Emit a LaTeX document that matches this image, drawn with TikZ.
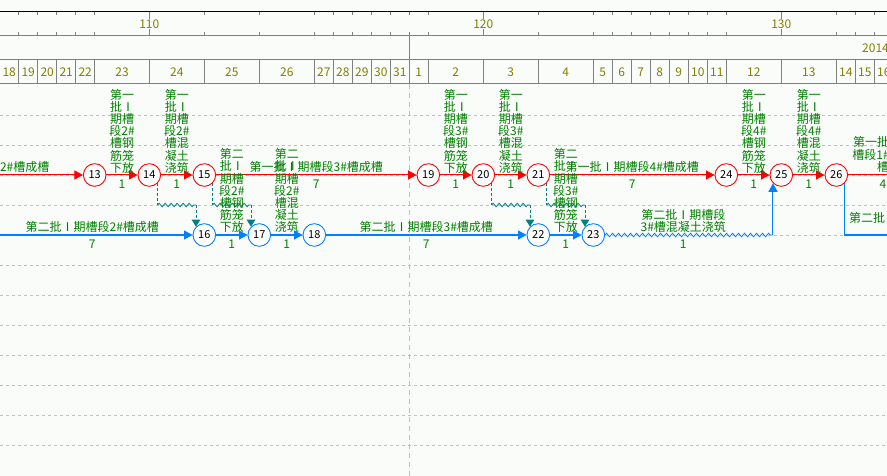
\documentclass[tikz,border=0pt]{standalone}
\usepackage{fontspec}
\setmainfont{Noto Sans CJK SC}
\usetikzlibrary{arrows.meta,decorations.pathmorphing}
\newcommand{\romI}{\makebox[1em]{Ⅰ}}
\definecolor{bgc}{RGB}{250,252,250}
\definecolor{redc}{RGB}{255,0,0}
\definecolor{bluec}{RGB}{0,128,255}
\definecolor{tealc}{RGB}{0,128,128}
\definecolor{greenc}{RGB}{0,128,0}
\definecolor{olivec}{RGB}{128,128,0}
\definecolor{hdrgray}{RGB}{128,128,128}
\definecolor{gridgray}{RGB}{192,192,192}
\tikzset{
  evr/.style={circle, draw=redc, fill=white, line width=0.9pt, minimum size=22.6pt, inner sep=0pt, text=black, font=\fontsize{11}{11}\selectfont},
  evb/.style={evr, draw=bluec},
  actr/.style={draw=redc, line width=1pt, -{Triangle[length=8.5pt,width=9pt]}},
  actb/.style={draw=bluec, line width=1pt, -{Triangle[length=8.5pt,width=9pt]}},
  plainr/.style={draw=redc, line width=1pt},
  plainb/.style={draw=bluec, line width=1pt},
  zigb/.style={draw=bluec, line width=0.8pt, decorate, decoration={zigzag, segment length=6pt, amplitude=1.8pt}},
  vlab/.style={text=greenc, align=center, inner sep=0pt, anchor=south, font=\fontsize{12}{12.2}\selectfont},
  hlab/.style={text=greenc, inner sep=0pt, anchor=base, font=\fontsize{12}{12}\selectfont},
  dur/.style={text=greenc, inner sep=0pt, anchor=base, font=\fontsize{12}{12}\selectfont},
  depd/.style={draw=tealc, line width=0.8pt, dash pattern=on 3pt off 2pt},
  depz/.style={draw=tealc, line width=0.8pt, decorate, decoration={zigzag, segment length=6pt, amplitude=1.8pt}},
  deptip/.style={-{Triangle[length=7pt,width=8.5pt]}},
  hdr/.style={draw=hdrgray, line width=1pt},
  gridl/.style={draw=gridgray, line width=0.8pt, dash pattern=on 3pt off 3pt},
  gridv/.style={draw=gridgray, line width=0.8pt, dash pattern=on 5pt off 4pt},
  hdrlab/.style={text=olivec, inner sep=0pt, anchor=base, font=\fontsize{12}{12}\selectfont},
}
\begin{document}
\begin{tikzpicture}[x=1pt,y=-1pt]
\path[use as bounding box] (0,0) rectangle (887,476);
\clip (0,0) rectangle (887,476);
\fill[bgc] (0,0) rectangle (887,476);

% grid
\foreach \y in {115,145,...,445} {\draw[gridl] (0,\y) -- (887,\y);}
\draw[gridv] (409.3,84) -- (409.3,476);

% header
\draw[black, line width=1pt] (0,12) -- (887,12);
\draw[hdr] (0,36) -- (887,36);
\draw[hdr] (0,60) -- (887,60);
\draw[hdr] (0,84) -- (887,84);
\draw[hdr] (409.3,36) -- (409.3,60);
\foreach \x in {18.7,37.7,56.7,75.7,94.7,204.3,259.3,314.3,333.3,352.3,371.3,390.3,409.3,428.3,538.3,593.3,612.3,631.3,650.3,669.3,688.3,707.3,726.3,836.3,855.3,874.3}
  {\draw[hdr] (\x,12) -- (\x,15.5) (\x,32.5) -- (\x,36);}
\foreach \x/\t in {149.3/110,483.3/120,781.3/130}
  {\draw[hdr] (\x,12) -- (\x,19) (\x,29) -- (\x,36);
   \node[hdrlab] at (\x,28.5) {\t};}
\node[hdrlab, anchor=base west] at (862,52.5) {2014年2月};
\foreach \d/\l/\r in {18/-0.3/18.7,19/18.7/37.7,20/37.7/56.7,21/56.7/75.7,22/75.7/94.7,23/94.7/149.3,24/149.3/204.3,25/204.3/259.3,26/259.3/314.3,27/314.3/333.3,28/333.3/352.3,29/352.3/371.3,30/371.3/390.3,31/390.3/409.3,1/409.3/428.3,2/428.3/483.3,3/483.3/538.3,4/538.3/593.3,5/593.3/612.3,6/612.3/631.3,7/631.3/650.3,8/650.3/669.3,9/669.3/688.3,10/688.3/707.3,11/707.3/726.3,12/726.3/781.3,13/781.3/836.3,14/836.3/855.3,15/855.3/874.3,16/874.3/893.3}
  {\draw[hdr] (\r,60) -- (\r,84);
   \node[hdrlab] at ({(\l+\r)/2},76.5) {\d};}

% row levels
\coordinate (yr) at (0,175);
\coordinate (yb) at (0,235);
\coordinate (yd) at (0,205);

% events
\node[evr] (n13) at (94.7,175) {13};
\node[evr] (n14) at (149.3,175) {14};
\node[evr] (n15) at (204.3,175) {15};
\node[evr] (n19) at (428.3,175) {19};
\node[evr] (n20) at (483.3,175) {20};
\node[evr] (n21) at (538.3,175) {21};
\node[evr] (n24) at (726.3,175) {24};
\node[evr] (n25) at (781.3,175) {25};
\node[evr] (n26) at (836.3,175) {26};
\node[evb] (n16) at (204.3,235) {16};
\node[evb] (n17) at (259.3,235) {17};
\node[evb] (n18) at (314.3,235) {18};
\node[evb] (n22) at (538.3,235) {22};
\node[evb] (n23) at (593.3,235) {23};

% free ends
\coordinate (Lr) at (-129.3,175);
\coordinate (Rr) at (930,175);
\coordinate (Lb) at (-19.7,235);
\coordinate (Rb) at (930,235);

% red activities
\draw[actr] (Lr) -- (n13);
\draw[actr] (n13) -- (n14);
\draw[actr] (n14) -- (n15);
\draw[actr] (n15) -- (n19);
\draw[actr] (n19) -- (n20);
\draw[actr] (n20) -- (n21);
\draw[actr] (n21) -- (n24);
\draw[actr] (n24) -- (n25);
\draw[actr] (n25) -- (n26);
\draw[plainr] (n26) -- (Rr);

% blue activities
\draw[actb] (Lb) -- (n16);
\draw[actb] (n16) -- (n17);
\draw[actb] (n17) -- (n18);
\draw[actb] (n18) -- (n22);
\draw[actb] (n22) -- (n23);
\coordinate (w25) at (n25.south west |- yb);
\draw[zigb] (n23.east) -- (w25);
\draw[actb] (w25) -- (n25.south west);
\draw[plainb] (n26.south east) -- (n26.south east |- yb) -- (Rb);

% dependencies
\foreach \a/\b in {n14/n16,n15/n17,n20/n22,n21/n23}{
  \coordinate (da) at (\a.south east |- yd);
  \coordinate (db) at (\b.north west |- yd);
  \draw[depd] (\a.south east) -- (da);
  \draw[depz] (da) -- (db);
  \draw[depd,deptip] (db) -- (\b.north west);
}

% red labels
\node[hlab] at (-17.3,171.5) {第一批\romI 期槽段2\#槽成槽};
\node[vlab] at (122,173.5) {第一\\批\romI\\期槽\\段2\#\\槽钢\\筋笼\\下放};
\node[dur] at (122,188.5) {1};
\node[vlab] at (176.8,173.5) {第一\\批\romI\\期槽\\段2\#\\槽混\\凝土\\浇筑};
\node[dur] at (176.8,188.5) {1};
\node[hlab] at (316.3,171.5) {第一批\romI 期槽段3\#槽成槽};
\node[dur] at (316.3,188.5) {7};
\node[vlab] at (455.8,173.5) {第一\\批\romI\\期槽\\段3\#\\槽钢\\筋笼\\下放};
\node[dur] at (455.8,188.5) {1};
\node[vlab] at (510.8,173.5) {第一\\批\romI\\期槽\\段3\#\\槽混\\凝土\\浇筑};
\node[dur] at (510.8,188.5) {1};
\node[hlab] at (632.3,171.5) {第一批\romI 期槽段4\#槽成槽};
\node[dur] at (632.3,188.5) {7};
\node[vlab] at (753.8,173.5) {第一\\批\romI\\期槽\\段4\#\\槽钢\\筋笼\\下放};
\node[dur] at (753.8,188.5) {1};
\node[vlab] at (808.8,173.5) {第一\\批\romI\\期槽\\段4\#\\槽混\\凝土\\浇筑};
\node[dur] at (808.8,188.5) {1};
\node[vlab] at (883,172.5) {第一批\romI 期\\槽段1\#槽成\\槽};
\node[dur] at (883,188.5) {4};

% blue labels
\node[hlab] at (92.3,231.5) {第二批\romI 期槽段2\#槽成槽};
\node[dur] at (92.3,248.5) {7};
\node[vlab] at (231.8,233) {第二\\批\romI\\期槽\\段2\#\\槽钢\\筋笼\\下放};
\node[dur] at (231.8,248.5) {1};
\node[vlab] at (286.8,233) {第二\\批\romI\\期槽\\段2\#\\槽混\\凝土\\浇筑};
\node[dur] at (286.8,248.5) {1};
\node[hlab] at (426.3,231.5) {第二批\romI 期槽段3\#槽成槽};
\node[dur] at (426.3,248.5) {7};
\node[vlab] at (565.8,233) {第二\\批\romI\\期槽\\段3\#\\槽钢\\筋笼\\下放};
\node[dur] at (565.8,248.5) {1};
\node[vlab] at (683.3,232.5) {第二批\romI 期槽段\\3\#槽混凝土浇筑};
\node[dur] at (683.3,248.5) {1};
\node[hlab, anchor=base west] at (849,222.5) {第二批\romI 期槽段};
\end{tikzpicture}
\end{document}
